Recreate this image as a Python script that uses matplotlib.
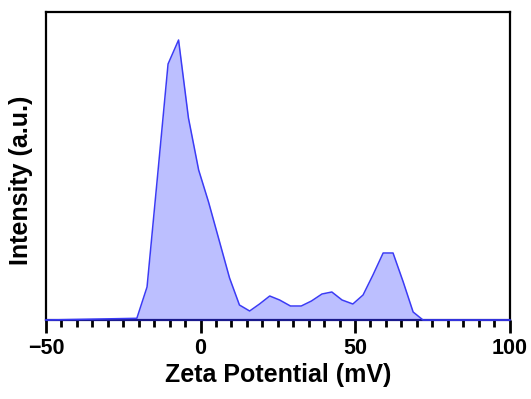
import matplotlib
matplotlib.use('Agg')
import matplotlib.pyplot as plt
from matplotlib.ticker import MultipleLocator

# Zeta potential distribution
zeta_mv = [-50, -20.6, -17.3, -13.9, -10.5, -7.1, -3.9, -0.6, 2.6, 6.0, 9.4, 12.6,
           15.9, 19.1, 22.4, 25.6, 29.1, 32.6, 35.9, 39.3, 42.5, 45.8, 49.3,
           52.6, 55.8, 59.1, 62.3, 65.6, 68.8, 72.0, 100]
intensity = [0, 1.7, 33, 144, 256, 280, 202, 150, 118, 80, 42, 15,
             9, 16, 24, 20, 14, 14, 19, 26, 28, 20, 16,
             25, 45, 67, 67, 38, 8, 0, 0]

plt.rcParams['font.family'] = ['Liberation Sans', 'DejaVu Sans']
plt.rcParams['font.weight'] = 'bold'

fig = plt.figure(figsize=(5.31, 3.99), dpi=100)
ax = fig.add_axes([0.0866, 0.198, 0.873, 0.7707])

ax.fill_between(zeta_mv, intensity, 0, color='#bcbfff', lw=0)
ax.plot(zeta_mv, intensity, color='#3b3bf5', lw=1.1, zorder=3, clip_on=False)

ax.set_xlim(-50, 100)
ax.set_ylim(0, 307.5)
ax.set_xticks([-50, 0, 50, 100])
ax.xaxis.set_minor_locator(MultipleLocator(5))
ax.set_yticks([])
ax.tick_params(axis='x', which='major', length=9, width=2, labelsize=15.5, pad=4)
ax.tick_params(axis='x', which='minor', length=5, width=2)
for s in ax.spines.values():
    s.set_linewidth(1.6)
ax.spines['bottom'].set_color('#1a1a8c')

ax.set_xlabel('Zeta Potential (mV)', fontsize=18, fontweight='bold', labelpad=3)
ax.set_ylabel('Intensity (a.u.)', fontsize=18, fontweight='bold')
ax.yaxis.set_label_coords(-0.028, 0.455)

fig.savefig('out.png', dpi=100)
